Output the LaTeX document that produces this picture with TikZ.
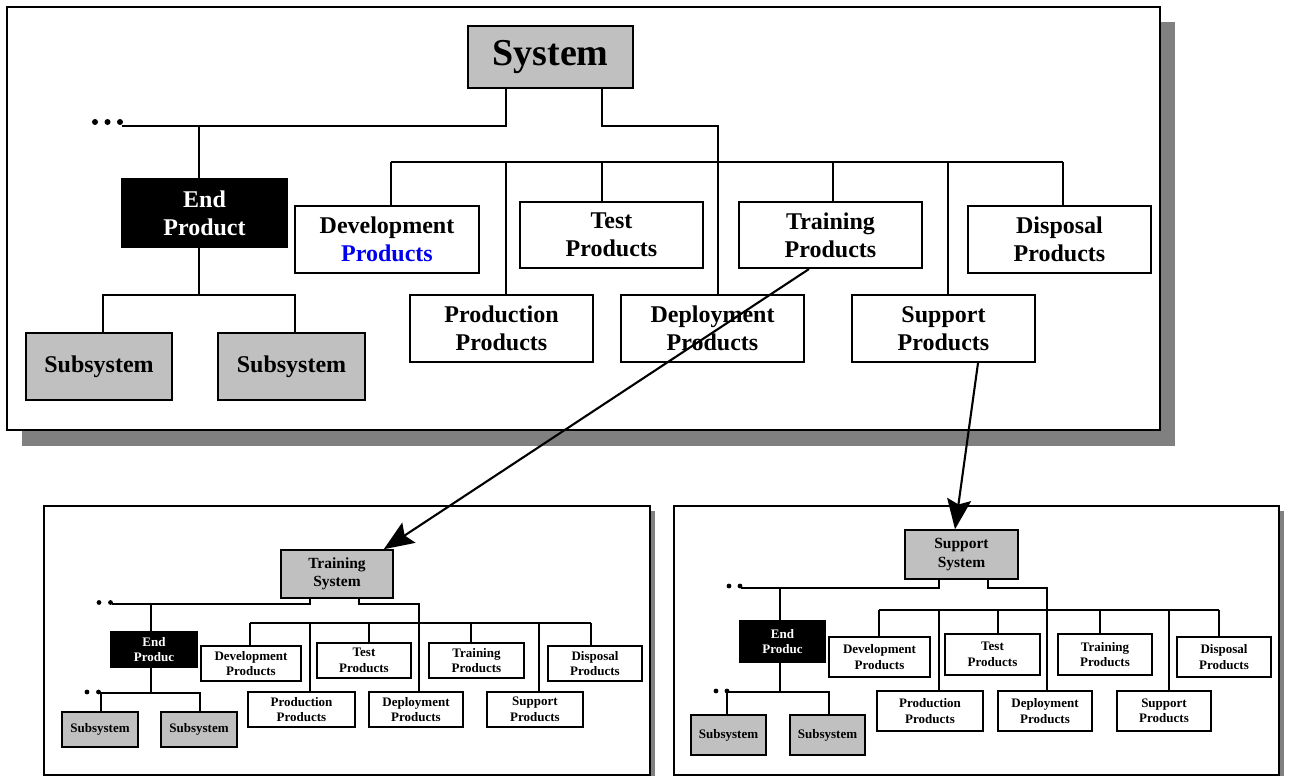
\documentclass[tikz,border=0pt]{standalone}
\usepackage{fontspec}
\setmainfont{Liberation Serif}
\usetikzlibrary{arrows.meta}
\definecolor{boxgray}{HTML}{C0C0C0}
\definecolor{shadowgray}{HTML}{808080}
\definecolor{prodblue}{HTML}{0000F0}
\begin{document}
\begin{tikzpicture}[x=1pt,y=-1pt,
  ln/.style={line width=2.1pt},
  lns/.style={line width=1.5pt},
  sz/.style 2 args={minimum width=#1, minimum height=#2},
  bx/.style={draw, line width=2.1pt, inner sep=0pt, align=center, fill=white,
    font=\bfseries\fontsize{24}{28}\selectfont},
  bxs/.style={draw, line width=1.5pt, inner sep=0pt, align=center, fill=white,
    font=\bfseries\fontsize{13}{15.5}\selectfont},
  graybox/.style={fill=boxgray},
  blackbox/.style={fill=black, text=white},
  arr/.style={line width=2.1pt, -{Stealth[length=30pt, width=24pt, inset=5pt]}},
  dot/.style={fill=black}
]
\useasboundingbox (0,0) rectangle (1290,776);

% ================= top panel =================
\fill[shadowgray] (22,22) rectangle (1175,446);
\draw[ln, fill=white] (7,7) rectangle (1160,430);

\node[bx, graybox, sz={165}{62}, font=\bfseries\fontsize{38}{40}\selectfont] (sys) at (550.5,57) {System};
\node[bx, blackbox, sz={165}{68}] (endp) at (204.5,213) {End\\Product};
\node[bx, sz={184}{67}] (dev) at (387,239.5) {Development\\\textcolor{prodblue}{Products}};
\node[bx, sz={183}{66}] (test) at (611.5,235) {Test\\Products};
\node[bx, sz={183}{66}] (train) at (830.5,235) {Training\\Products};
\node[bx, sz={183}{67}] (disp) at (1059.5,239.5) {Disposal\\Products};
\node[bx, sz={183}{67}] (prod) at (501.5,328.5) {Production\\Products};
\node[bx, sz={183}{67}] (depl) at (712.5,328.5) {Deployment\\Products};
\node[bx, sz={183}{67}] (supp) at (943.5,328.5) {Support\\Products};
\node[bx, graybox, sz={146}{67}] (sub1) at (99,366.5) {Subsystem};
\node[bx, graybox, sz={147}{67}] (sub2) at (291.5,366.5) {Subsystem};

\coordinate (TL) at (122,126);
\coordinate (Te) at (199,126);
\coordinate (Tr) at (718,126);
\coordinate (Ts) at (199,295);
\coordinate (Ts1) at (103,295);
\coordinate (Ts2) at (295,295);
\coordinate (Tb1) at (391,162);
\coordinate (Tb2) at (506,162);
\coordinate (Tb3) at (602,162);
\coordinate (Tb5) at (833,162);
\coordinate (Tb6) at (948,162);
\coordinate (Tb7) at (1063,162);

\draw[ln] ([xshift=-44.5]sys.south) |- (TL);
\draw[ln] ([xshift=51.5]sys.south) |- (Tr) -- (Tr |- depl.north);
\draw[ln] (Te) -- (Te |- endp.north);
\draw[ln] (Te |- endp.south) -- (Ts);
\draw[ln] (Ts1 |- sub1.north) -- (Ts1) -- (Ts2) -- (Ts2 |- sub2.north);
\draw[ln] (Tb1) -- (Tb7);
\foreach \c/\n in {Tb1/dev, Tb2/prod, Tb3/test, Tb5/train, Tb6/supp, Tb7/disp}
  \draw[ln] (\c) -- (\c |- \n.north);
\foreach \x in {95,107.5,120} \fill[dot] (\x,122) circle (3);

% ================= bottom-left panel =================
\fill[shadowgray] (49,511) rectangle (655,781);
\draw[lns, fill=white] (44,506) rectangle (650,775);

\node[bxs, graybox, sz={112}{48}, font=\bfseries\fontsize{15.5}{18.5}\selectfont] (tsys) at (337,574) {Training\\System};
\node[bxs, blackbox, sz={86}{35}] (tend) at (154,649.5) {End\\Produc};
\node[bxs, sz={100}{35}] (tdev) at (251,663.5) {Development\\Products};
\node[bxs, sz={94}{35}] (ttest) at (364,660.5) {Test\\Products};
\node[bxs, sz={95}{35}] (ttrain) at (476.5,660.5) {Training\\Products};
\node[bxs, sz={94}{35}] (tdisp) at (595,663.5) {Disposal\\Products};
\node[bxs, sz={107}{35}] (tprod) at (301.5,709.5) {Production\\Products};
\node[bxs, sz={94}{35}] (tdepl) at (416,709.5) {Deployment\\Products};
\node[bxs, sz={96}{35}] (tsupp) at (535,709.5) {Support\\Products};
\node[bxs, graybox, sz={76}{35}] (tsub1) at (100,729.5) {Subsystem};
\node[bxs, graybox, sz={76}{35}] (tsub2) at (199,729.5) {Subsystem};

\coordinate (aL) at (112,604);
\coordinate (ae) at (151,604);
\coordinate (ar) at (419,604);
\coordinate (as) at (151,693);
\coordinate (as1) at (101,693);
\coordinate (as2) at (200,693);
\coordinate (ab1) at (250,623);
\coordinate (ab2) at (310,623);
\coordinate (ab3) at (369,623);
\coordinate (ab5) at (471,623);
\coordinate (ab6) at (539,623);
\coordinate (ab7) at (591,623);

\draw[lns] ([xshift=-27]tsys.south) |- (aL);
\draw[lns] ([xshift=22]tsys.south) |- (ar) -- (ar |- tdepl.north);
\draw[lns] (ae) -- (ae |- tend.north);
\draw[lns] (ae |- tend.south) -- (as);
\draw[lns] (as1 |- tsub1.north) -- (as1) -- (as2) -- (as2 |- tsub2.north);
\draw[lns] (ab1) -- (ab7);
\foreach \c/\n in {ab1/tdev, ab2/tprod, ab3/ttest, ab5/ttrain, ab6/tsupp, ab7/tdisp}
  \draw[lns] (\c) -- (\c |- \n.north);
\foreach \x in {99,110.5} \fill[dot] (\x,602.5) circle (2.4);
\foreach \x in {87,98.5} \fill[dot] (\x,692) circle (2.4);

% ================= bottom-right panel =================
\fill[shadowgray] (679,511) rectangle (1284,781);
\draw[lns, fill=white] (674,506) rectangle (1279,775);

\node[bxs, graybox, sz={113}{49}, font=\bfseries\fontsize{15.5}{18.5}\selectfont] (ssys) at (961.5,554.5) {Support\\System};
\node[bxs, blackbox, sz={85}{41}] (send) at (782.5,641.5) {End\\Produc};
\node[bxs, sz={101}{40}] (sdev) at (879.5,657) {Development\\Products};
\node[bxs, sz={95}{41}] (stest) at (992.5,654.5) {Test\\Products};
\node[bxs, sz={94}{41}] (strain) at (1105,654.5) {Training\\Products};
\node[bxs, sz={94}{40}] (sdisp) at (1224,657) {Disposal\\Products};
\node[bxs, sz={106}{40}] (sprod) at (930,711) {Production\\Products};
\node[bxs, sz={94}{40}] (sdepl) at (1045,711) {Deployment\\Products};
\node[bxs, sz={94}{40}] (ssupp) at (1164,711) {Support\\Products};
\node[bxs, graybox, sz={75}{40}] (ssub1) at (728.5,735) {Subsystem};
\node[bxs, graybox, sz={75}{40}] (ssub2) at (827.5,735) {Subsystem};

\coordinate (bL) at (741,588);
\coordinate (be) at (780,588);
\coordinate (br) at (1047,588);
\coordinate (bs) at (780,692);
\coordinate (bs1) at (727,692);
\coordinate (bs2) at (829,692);
\coordinate (bb1) at (879,610);
\coordinate (bb2) at (939,610);
\coordinate (bb3) at (998,610);
\coordinate (bb5) at (1100,610);
\coordinate (bb6) at (1169,610);
\coordinate (bb7) at (1219,610);

\draw[lns] ([xshift=-22.5]ssys.south) |- (bL);
\draw[lns] ([xshift=26.5]ssys.south) |- (br) -- (br |- sdepl.north);
\draw[lns] (be) -- (be |- send.north);
\draw[lns] (be |- send.south) -- (bs);
\draw[lns] (bs1 |- ssub1.north) -- (bs1) -- (bs2) -- (bs2 |- ssub2.north);
\draw[lns] (bb1) -- (bb7);
\foreach \c/\n in {bb1/sdev, bb2/sprod, bb3/stest, bb5/strain, bb6/ssupp, bb7/sdisp}
  \draw[lns] (\c) -- (\c |- \n.north);
\foreach \x in {729,740} \fill[dot] (\x,586) circle (2.4);
\foreach \x in {716,727} \fill[dot] (\x,691) circle (2.4);

% ================= arrows =================
\draw[arr] ([xshift=-21.5]train.south) -- ([xshift=-10]tsys.north east);
\draw[arr] ([xshift=34.5]supp.south) -- ([xshift=-6.5]ssys.north);
\end{tikzpicture}
\end{document}
